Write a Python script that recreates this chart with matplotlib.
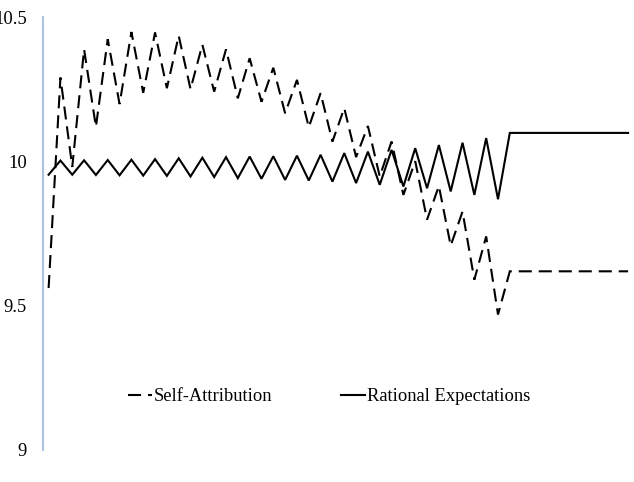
import matplotlib
matplotlib.use("Agg")
import matplotlib.pyplot as plt
import numpy as np

plt.rcParams['font.family'] = ['Liberation Serif', 'DejaVu Serif']
plt.rcParams['lines.scale_dashes'] = False

periods = list(range(50))

self_attribution = [
    9.560, 10.290, 9.980, 10.388, 10.119, 10.423, 10.198, 10.448, 10.237, 10.446,
    10.253, 10.435, 10.250, 10.404, 10.241, 10.388, 10.218, 10.357, 10.206, 10.324,
    10.166, 10.282, 10.118, 10.236, 10.068, 10.184, 10.014, 10.122, 9.947, 10.068,
    9.883, 10.000, 9.797, 9.914, 9.707, 9.825, 9.589, 9.739, 9.468, 9.618,
    9.618, 9.618, 9.618, 9.618, 9.618, 9.618, 9.618, 9.618, 9.618, 9.618,
]

rational_expectations = [
    9.953, 10.002, 9.953, 10.003, 9.952, 10.004, 9.951, 10.005, 9.950, 10.007,
    9.949, 10.010, 9.947, 10.012, 9.945, 10.014, 9.941, 10.016, 9.939, 10.017,
    9.935, 10.019, 9.933, 10.022, 9.929, 10.028, 9.924, 10.033, 9.918, 10.039,
    9.912, 10.045, 9.906, 10.056, 9.895, 10.064, 9.883, 10.080, 9.868, 10.098,
    10.098, 10.098, 10.098, 10.098, 10.098, 10.098, 10.098, 10.098, 10.098, 10.098,
]

y_ticks = [9, 9.5, 10, 10.5]
y_tick_labels = ["9", "9.5", "10", "10.5"]
series_names = ["Self-Attribution", "Rational Expectations"]

fig = plt.figure(figsize=(6.34, 4.82), dpi=100)
ax = fig.add_axes([42.7 / 634, 1 - 449.5 / 482, (634 - 42.7) / 634, (449.5 - 17) / 482])

ax.plot(periods, self_attribution, color='black', lw=1.5, dashes=(9.4, 5.0),
        solid_joinstyle='miter', dash_joinstyle='miter', label=series_names[0])
ax.plot(periods, rational_expectations, color='black', lw=1.5,
        solid_joinstyle='miter', label=series_names[1])

ax.set_xlim(-0.5, 49.5)
ax.set_ylim(9, 10.5)
ax.set_yticks(y_ticks)
ax.set_yticklabels(y_tick_labels)
ax.set_xticks([])
ax.tick_params(axis='y', length=0, pad=11.5, labelsize=13.3)

for s in ['top', 'right', 'bottom']:
    ax.spines[s].set_visible(False)
ax.spines['left'].set_color('#a3bbe0')
ax.spines['left'].set_linewidth(1.3)

leg = fig.legend(loc='center', bbox_to_anchor=(329 / 634, 1 - 396.5 / 482),
                 ncol=2, frameon=False, fontsize=13.3, handlelength=1.3,
                 handletextpad=0.1, columnspacing=3.7, borderpad=0.0)

fig.savefig("out.png", dpi=100)
